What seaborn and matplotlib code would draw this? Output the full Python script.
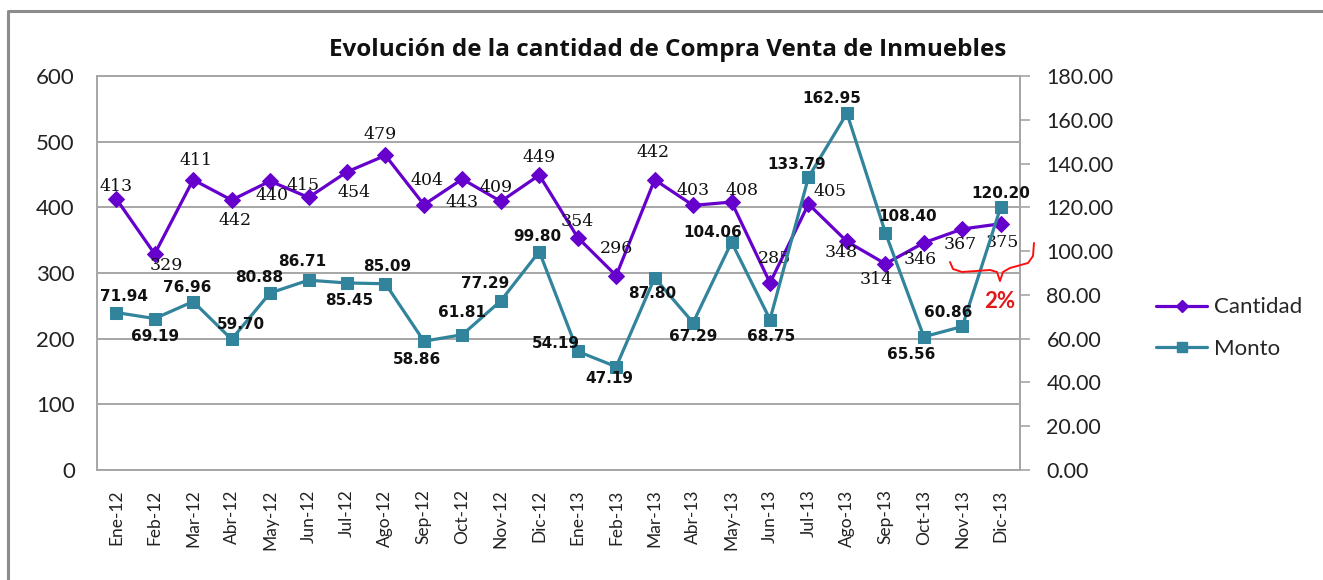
import pandas as pd
import matplotlib.pyplot as plt
import seaborn as sns
from matplotlib.lines import Line2D

# Monthly values
meses = ['Ene-12', 'Feb-12', 'Mar-12', 'Abr-12', 'May-12', 'Jun-12', 'Jul-12', 'Ago-12',
         'Sep-12', 'Oct-12', 'Nov-12', 'Dic-12', 'Ene-13', 'Feb-13', 'Mar-13', 'Abr-13',
         'May-13', 'Jun-13', 'Jul-13', 'Ago-13', 'Sep-13', 'Oct-13', 'Nov-13', 'Dic-13']
cantidad = [413, 329, 442, 411, 440, 415, 454, 479, 404, 443, 409, 449,
            354, 296, 442, 403, 408, 285, 405, 348, 314, 346, 367, 375]
monto = [71.94, 69.19, 76.96, 59.70, 80.88, 86.71, 85.45, 85.09, 58.86, 61.81, 77.29, 99.80,
         54.19, 47.19, 87.80, 67.29, 104.06, 68.75, 133.79, 162.95, 108.40, 60.86, 65.56, 120.20]
# the labels as printed in the original (two pairs are swapped there)
cantidad_txt = ['413', '329', '411', '442', '440', '415', '454', '479', '404', '443', '409', '449',
                '354', '296', '442', '403', '408', '285', '405', '348', '314', '346', '367', '375']
monto_txt = ['71.94', '69.19', '76.96', '59.70', '80.88', '86.71', '85.45', '85.09', '58.86',
             '61.81', '77.29', '99.80', '54.19', '47.19', '87.80', '67.29', '104.06', '68.75',
             '133.79', '162.95', '108.40', '65.56', '60.86', '120.20']

# label offsets in pixels (dx right, dy down)
off_cant = [(0, -12), (12, 12), (3, -19), (3, 20), (2, 14), (-5, -12), (7, 21), (-5, -21),
            (3, -24), (0, 23), (-5, -14), (0, -18), (0, -16), (0, -27), (-2, -27), (0, -15),
            (10, -12), (4, -24), (22, -13), (-6, 11), (-9, 16), (-4, 17), (-2, 15), (2, 19)]
off_mont = [(8, -16), (0, 18), (-6, -14), (9, -15), (-11, -15), (-6, -19), (2, 18), (2, -17),
            (-7, 18), (0, -22), (-16, -17), (-2, -15), (-22, -8), (-7, 12), (-2, 16), (0, 14),
            (-19, -10), (1, 17), (-12, -13), (-15, -15), (22, -16), (-13, 18), (-14, -14), (0, -13)]

df = pd.DataFrame({'mes': meses, 'Cantidad': cantidad, 'Monto': monto})

sns.set_style('white')
plt.rcParams['font.family'] = ['Lato', 'DejaVu Sans']

morado = '#6600cc'
verde = '#31849b'
gris = '#a6a6a6'

fig = plt.figure(figsize=(13.23, 5.8), dpi=100)
ax = fig.add_axes([97 / 1323, 110 / 580, 923 / 1323, 394 / 580])
ax2 = ax.twinx()

sns.lineplot(data=df, x='mes', y='Cantidad', ax=ax, color=morado, lw=2.3,
             marker='D', markersize=8, markeredgecolor=morado, sort=False, zorder=3)
sns.lineplot(data=df, x='mes', y='Monto', ax=ax2, color=verde, lw=2.3,
             marker='s', markersize=9, markeredgecolor=verde, sort=False, zorder=3)

ax.set_xlim(-0.5, len(meses) - 0.5)
ax.set_ylim(0, 600)
ax.set_yticks(range(0, 601, 100))
ax2.set_ylim(0, 180)
ax2.set_yticks(range(0, 181, 20))
ax2.set_yticklabels([f'{v:.2f}' for v in range(0, 181, 20)])

ax.set_xlabel('')
ax.set_ylabel('')
ax2.set_ylabel('')
ax.set_xticks(range(len(meses)))
ax.set_xticklabels(meses, rotation=90, fontsize=12.5)

ax.grid(axis='y', color=gris, lw=1.4)
ax.set_axisbelow(True)
for s in ax.spines.values():
    s.set_color(gris)
    s.set_linewidth(1.4)
for s in ax2.spines.values():
    s.set_visible(False)
ax2.spines['right'].set_visible(True)
ax2.spines['right'].set_color(gris)
ax2.spines['right'].set_linewidth(1.4)

ax.tick_params(axis='y', length=0, pad=16, labelsize=16, colors='#222222')
ax.tick_params(axis='x', length=0, pad=14, colors='#222222')
ax2.tick_params(axis='y', length=7, width=1.2, pad=12, labelsize=15.5,
                colors=gris, labelcolor='#222222')

for i, (v, t) in enumerate(zip(cantidad, cantidad_txt)):
    dx, dy = off_cant[i]
    ax.annotate(t, (i, v), xytext=(dx, -dy), textcoords='offset pixels', ha='center',
                va='center', fontsize=12.5, family='DejaVu Serif', color='#111111', zorder=5)
for i, (v, t) in enumerate(zip(monto, monto_txt)):
    dx, dy = off_mont[i]
    ax2.annotate(t, (i, v), xytext=(dx, -dy), textcoords='offset pixels', ha='center',
                 va='center', fontsize=11, family='DejaVu Sans', fontweight='bold',
                 color='#111111', zorder=5)

fig.text(668 / 1323, 1 - 50 / 580, 'Evolución de la cantidad de Compra Venta de Inmuebles',
         ha='center', va='center', fontsize=17.5, fontweight='bold', color='#111111',
         family=['Open Sans', 'DejaVu Sans'])

handles = [Line2D([], [], color=morado, lw=2.3, marker='D', markersize=6),
           Line2D([], [], color=verde, lw=2.3, marker='s', markersize=7)]
fig.legend(handles, ['Cantidad', 'Monto'], loc='center left',
           bbox_to_anchor=(1136 / 1323, 1 - 328 / 580), frameon=False, fontsize=16,
           handlelength=2.3, labelspacing=0.95, handletextpad=0.3)

# red brace and note next to the last months
bx = [950, 953, 962, 990, 997, 1000, 1003, 1010, 1028, 1033, 1034]
by = [262, 269, 272, 270, 272, 281, 272, 268, 263, 256, 243]
fig.add_artist(Line2D([x / 1323 for x in bx], [1 - y / 580 for y in by],
                      transform=fig.transFigure, color='#ff1010', lw=1.4))
fig.text(1000 / 1323, 1 - 302 / 580, '2%', ha='center', va='center', fontsize=16,
         fontweight='bold', color='#e01818')

# frame of the original: only top and left edges are in view
fig.add_artist(Line2D([8 / 1323, 8 / 1323, 1.0], [0.0, 1 - 11 / 580, 1 - 11 / 580],
                      transform=fig.transFigure, color='#8c8c8c', lw=2.2))

plt.savefig('out.png', dpi=100)
